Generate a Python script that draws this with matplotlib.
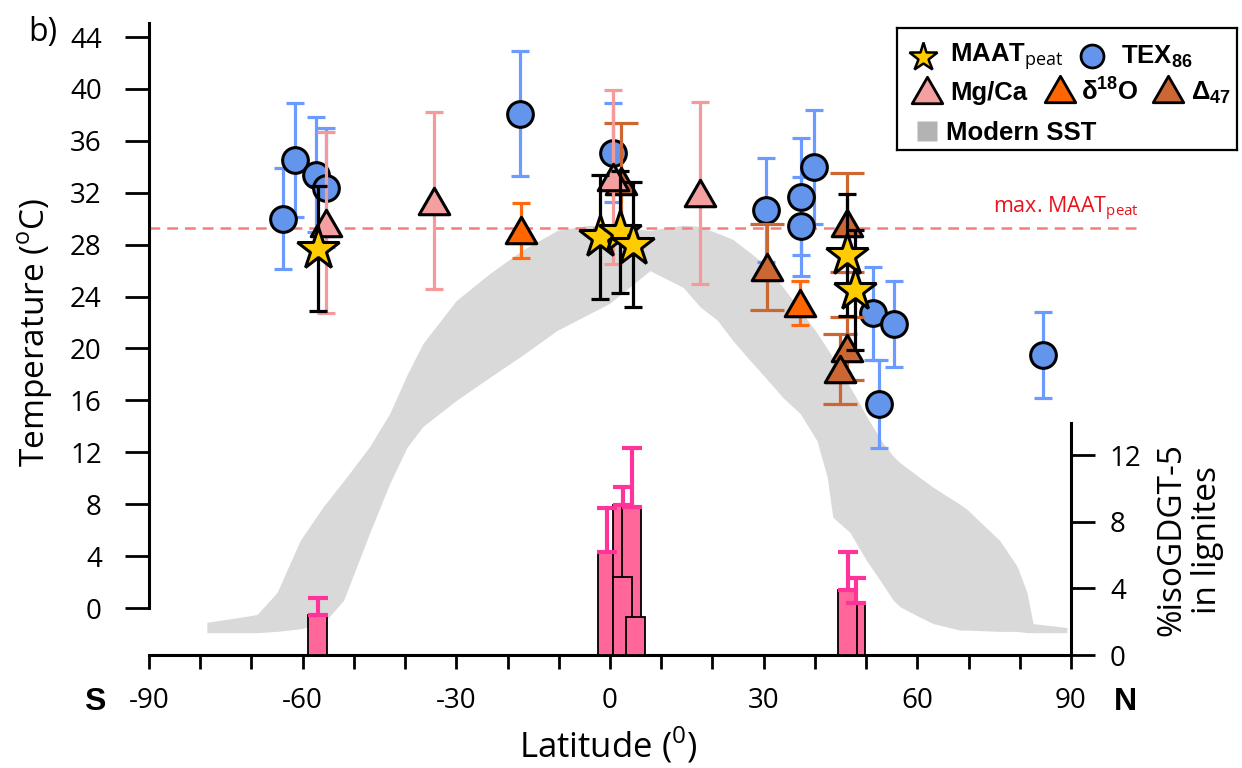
import numpy as np
import matplotlib
matplotlib.use("Agg")
import matplotlib.pyplot as plt
from matplotlib.path import Path

plt.rcParams["font.family"] = ["Open Sans", "DejaVu Sans"]
plt.rcParams["axes.unicode_minus"] = False
plt.rcParams["mathtext.fontset"] = "custom"
plt.rcParams["mathtext.rm"] = "Open Sans"
plt.rcParams["mathtext.bf"] = "Liberation Sans:bold"

# modern sea surface temperature envelope (min / max over latitude)
sst_lat = [-78.7, -72.0, -68.9, -65.0, -60.5, -56.0, -52.0, -47.0, -43.0, -39.6,
           -36.5, -30.0, -23.4, -17.0, -10.3, -3.9, 0.0, 7.8, 14.3, 17.6, 20.9,
           24.0, 27.3, 30.7, 33.8, 37.1, 40.4, 42.4, 43.5, 46.9, 48.8, 50.2,
           53.3, 55.3, 56.6, 60.0, 63.1, 68.3, 69.7, 76.1, 79.5, 81.4, 82.6,
           89.2]
sst_max = [-1.1, -0.7, -0.5, 1.2, 5.2, 7.8, 9.8, 12.4, 15.0, 18.0, 20.4, 23.7,
           25.8, 27.6, 29.1, 29.5, 29.4, 29.1, 29.5, 29.4, 28.9, 28.4, 27.4,
           26.3, 24.7, 23.0, 21.2, 20.0, 19.3, 17.0, 15.7, 14.7, 12.7, 11.7,
           11.2, 10.2, 9.3, 8.0, 7.6, 5.2, 3.2, 1.2, -1.2, -1.5]
sst_min = [-1.9, -1.9, -1.9, -1.8, -1.6, -1.2, 0.6, 5.7, 9.6, 12.4, 14.0, 16.0,
           17.8, 19.5, 21.4, 22.7, 23.5, 26.0, 24.7, 23.2, 22.2, 20.6, 19.1,
           17.6, 16.2, 15.0, 12.9, 10.1, 7.0, 5.8, 4.5, 3.6, 1.8, 0.6, 0.1,
           -0.6, -1.2, -1.7, -1.7, -1.8, -1.8, -1.9, -1.9, -1.9]

maat_max = 29.3

# TEX86
tex_lat = [-63.8, -61.5, -57.3, -55.5, -17.6, 0.6, 30.5, 37.3, 37.3, 39.8,
           51.3, 52.5, 55.4, 84.5]
tex_temp = [30.0, 34.5, 33.4, 32.4, 38.1, 35.1, 30.7, 31.7, 29.4, 34.0,
            22.7, 15.7, 21.9, 19.5]
tex_err = [3.9, 4.4, 4.4, 4.6, 4.8, 3.8, 4.0, 4.5, 3.8, 4.4, 3.6, 3.4, 3.3, 3.3]

# Mg/Ca
mgca_lat = [-55.4, -34.4, 0.6, 17.6]
mgca_temp = [29.7, 31.4, 33.2, 32.0]
mgca_err = [7.0, 6.8, 6.7, 7.0]

# d18O
d18o_lat = [-17.4, 37.1]
d18o_temp = [29.1, 23.5]
d18o_err = [2.1, 1.7]

# clumped isotopes
d47_lat = [2.2, 30.7, 46.3, 46.3, 44.9]
d47_temp = [32.9, 26.3, 29.7, 20.0, 18.4]
d47_err = [4.5, 3.3, 3.8, 2.4, 2.7]

# MAAT from peats
maat_lat = [-57.0, -2.0, 2.0, 4.5, 46.3, 47.8]
maat_temp = [27.7, 28.6, 29.0, 28.0, 27.2, 24.5]
maat_err = [4.8, 4.8, 4.7, 4.8, 4.7, 4.6]

# %isoGDGT-5 in lignites
iso_lat = [-57.1, -0.5, 2.5, 4.2, 2.5, 4.9, 48.0, 46.4]
iso_val = [2.4, 6.2, 9.0, 8.9, 4.7, 2.3, 3.1, 3.9]
iso_err = [1.0, 2.6, 1.1, 3.5, 0.0, 0.0, 1.5, 2.3]

tri = Path([(-1, -0.866), (1, -0.866), (0, 0.866), (-1, -0.866)],
           [Path.MOVETO, Path.LINETO, Path.LINETO, Path.CLOSEPOLY])

fig = plt.figure(figsize=(12.42, 7.68), dpi=100)
ax = fig.add_axes([149 / 1242, 1 - 655 / 768, 922 / 1242, 632 / 768])

ax.fill_between(sst_lat, sst_min, sst_max, color="#d9d9d9", lw=0, zorder=1)
ax.axhline(maat_max, xmin=0, xmax=1.075, color="#f08080", lw=1.8,
           dashes=(4.3, 2.8), clip_on=False, zorder=1.5)
ax.text(74.8, maat_max + 0.4, "max. MAAT$_{\\mathrm{peat}}$", color="#e8141c",
        fontsize=15.5, va="bottom", ha="left")


def proxy(lat, temp, err, marker, ms, face, ecol, capsize, z):
    ax.errorbar(lat, temp, yerr=err, fmt="none", ecolor=ecol, elinewidth=2.3,
                capsize=capsize, capthick=2.3, zorder=z)
    ax.plot(lat, temp, ls="none", marker=marker, ms=ms, mfc=face,
            mec="black", mew=2.2, zorder=z + 0.5)


proxy(tex_lat, tex_temp, tex_err, "o", 18.5, "#6495ed", "#6b9bff", 6.5, 3)
proxy(d47_lat, d47_temp, d47_err, tri, 22, "#cc6633", "#cc6633", 12, 3.6)
proxy(mgca_lat, mgca_temp, mgca_err, tri, 22, "#f4a0a0", "#f49a9a", 6.5, 4.2)
proxy(d18o_lat, d18o_temp, d18o_err, tri, 22, "#ff6600", "#ff6a10", 6.5, 5)
proxy(maat_lat, maat_temp, maat_err, "*", 32, "#ffcc00", "black", 6.5, 7)

ax.set_xlim(-90, 90)
ax.set_ylim(-3.62, 45.08)
ax.set_xticks(np.arange(-90, 91, 30))
ax.set_xticks(np.arange(-90, 91, 10), minor=True)
ax.set_yticks(np.arange(0, 45, 4))
for side in ["top", "right"]:
    ax.spines[side].set_visible(False)
for side in ["left", "bottom"]:
    ax.spines[side].set_linewidth(2.2)
ax.spines["left"].set_bounds(0, 45.08)
ax.tick_params(axis="x", which="both", length=10, width=2, direction="out",
               labelsize=20, pad=13)
ax.tick_params(axis="y", length=17, width=2, direction="out", labelsize=20,
               pad=17)
ax.set_ylabel("Temperature ($^{\\mathrm{o}}$C)", fontsize=24)
ax.yaxis.set_label_coords(-0.102, 0.51)
ax.set_xlabel("Latitude ($^{\\mathrm{0}}$)", fontsize=25)
ax.xaxis.set_label_coords(0.498, -0.11)

# lignite bars on the right-hand axis
ax2 = ax.twinx()
ax2.bar(iso_lat, iso_val, width=3.7, color="#ff6699", edgecolor="black",
        linewidth=1.3, zorder=2)
iso_lat_a = np.array(iso_lat)
iso_val_a = np.array(iso_val)
iso_err_a = np.array(iso_err)
has_err = iso_err_a > 0
ax2.errorbar(iso_lat_a[has_err], iso_val_a[has_err],
             yerr=[np.zeros(has_err.sum()), iso_err_a[has_err]], fmt="none",
             ecolor="#ff3399", elinewidth=3, capsize=7, capthick=3, zorder=3)
ax2.set_ylim(0, 37.92)
ax2.set_yticks([0, 4, 8, 12])
for side in ["top", "left", "bottom"]:
    ax2.spines[side].set_visible(False)
ax2.spines["right"].set_linewidth(2.2)
ax2.spines["right"].set_bounds(0, 13.9)
ax2.tick_params(axis="y", length=17, width=2, direction="out", labelsize=20,
                pad=11)
ax2.set_ylabel("%isoGDGT-5\nin lignites", fontsize=24, rotation=90,
               multialignment="center", linespacing=1.1)
ax2.yaxis.set_label_coords(1.092, 0.182)

fig.text(95 / 1242, 1 - 702 / 768, "S", fontsize=23, fontweight="bold",
         family="Liberation Sans", ha="center", va="center")
fig.text(1125 / 1242, 1 - 702 / 768, "N", fontsize=23, fontweight="bold",
         family="Liberation Sans", ha="center", va="center")
fig.text(28 / 1242, 1 - 32 / 768, "b)", fontsize=23, ha="left", va="center")

# legend panel
lax = fig.add_axes([897 / 1242, 1 - 150 / 768, 340 / 1242, 122 / 768])
lax.set_xlim(0, 340)
lax.set_ylim(122, 0)
lax.set_xticks([])
lax.set_yticks([])
for s in lax.spines.values():
    s.set_linewidth(1.6)
lfont = dict(fontsize=18.5, fontweight="bold", family="Liberation Sans",
             va="center", ha="left")
lax.plot(26, 29, "*", ms=21, mfc="#ffcc00", mec="black", mew=1.8)
lax.text(53, 29, "MAAT$_{\\mathrm{peat}}$", **lfont)
lax.plot(195, 28, "o", ms=16.5, mfc="#6495ed", mec="black", mew=2)
lax.text(224, 29, "TEX$_{\\mathbf{86}}$", **lfont)
lax.plot(30, 62, marker=tri, ms=22, mfc="#f4a0a0", mec="black", mew=2)
lax.text(53, 65, "Mg/Ca", **lfont)
lax.plot(163, 61, marker=tri, ms=22, mfc="#ff6600", mec="black", mew=2)
lax.text(184, 63, "δ$^{\\mathbf{18}}$O", **lfont)
lax.plot(271, 61, marker=tri, ms=22, mfc="#cc6633", mec="black", mew=2)
lax.text(294, 65, "Δ$_{\\mathbf{47}}$", **lfont)
lax.plot(30, 103, "s", ms=14, mfc="#b3b3b3", mec="none")
lax.text(49, 105, "Modern SST", **lfont)

fig.savefig("out.png", dpi=100)
